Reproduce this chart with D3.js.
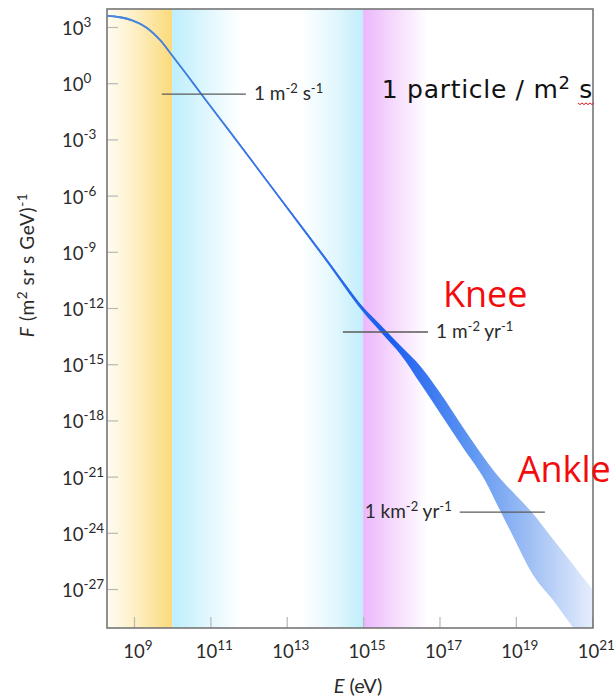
<!DOCTYPE html>
<html>
<head>
<meta charset="utf-8">
<script src="https://cdn.jsdelivr.net/npm/d3@7"></script>
<style>
html, body { margin: 0; padding: 0; background: #fff; }
svg { display: block; }
</style>
</head>
<body>
<div id="graphicContainer"></div>
<script>

// values are stored as powers of ten (log10)
var energyExp    = [8.3, 8.63, 8.97, 9.34, 9.68, 10.0, 10.39, 10.78, 11.5, 13.0, 14.0, 15.0, 15.5, 16.0, 16.5, 17.0, 17.6, 18.2, 18.6, 19.0, 19.4, 20.0, 20.5, 21.0];
var fluxUpperExp = [3.64, 3.57, 3.39, 3.0, 2.36, 1.53, 0.49, -0.58, -2.51, -6.56, -9.24, -11.95, -13.0, -14.06, -15.11, -16.48, -18.32, -20.08, -21.13, -21.99, -22.86, -24.41, -25.70, -27.0];
var fluxLowerExp = [3.54, 3.47, 3.29, 2.9, 2.26, 1.43, 0.39, -0.68, -2.61, -6.68, -9.42, -12.21, -13.37, -14.53, -16.03, -17.56, -19.40, -21.23, -22.86, -24.49, -26.08, -27.67, -29.06, -30.5];

var xTickExp = [9, 11, 13, 15, 17, 19, 21];
var yTickExp = [3, 0, -3, -6, -9, -12, -15, -18, -21, -24, -27];

// shaded energy regions
var bandFromExp = [8.29, 10.0, 13.35, 15.0];
var bandToExp   = [10.0, 11.8, 15.0, 16.7];

// rate markers
var rateLabels  = ["1 m^{-2} s^{-1}", "1 m^{-2} yr^{-1}", "1 km^{-2} yr^{-1}"];
var rateFluxExp = [-0.58, -13.28, -22.89];
var rateFromExp = [9.73, 14.47, 17.53];
var rateToExp   = [11.93, 16.70, 19.76];

var calloutLabels    = ["Knee", "Ankle"];
var calloutEnergyExp = [17.09, 19.05];
var calloutFluxExp   = [-11.95, -21.29];

var noteLabel = "1 particle / m^{2} s";
var noteAt = [15.49, -0.79];

var bandStops = [
	[["0%", "#fffcf4"], ["55%", "#fdebb6"], ["100%", "#fbda7a"]],
	[["0%", "#bdeefc"], ["45%", "#dcf6fd"], ["100%", "#ffffff"]],
	[["0%", "#ffffff"], ["55%", "#e2f7fd"], ["100%", "#c1eefc"]],
	[["0%", "#ebb7fb"], ["50%", "#f6dcfd"], ["100%", "#ffffff"]]
];

var curveStops = [
	["0%", "#4a86dc"], ["45%", "#2f6eea"], ["58%", "#1a5cf0"],
	["75%", "#5e96f1"], ["87%", "#9fbff4"], ["100%", "#e6eefc"]
];

var pow = function(e) { return Math.pow(10, e); };

var w = 616, h = 698;
var margin = {top: 9, right: 23, bottom: 70, left: 107},
    width = w - margin.left - margin.right,
    height = h - margin.top - margin.bottom;

var x = d3.scaleLog().domain([pow(8.293), pow(21.02)]).range([0, width]);
var y = d3.scaleLog().domain([pow(3.96), pow(-29.08)]).range([0, height]);

// text with ^{...} superscripts
function rich(text, str, shift, supSize) {
	var parts = str.split(/\^\{([^}]*)\}/);
	var current = 0;
	parts.forEach(function(p, i) {
		if (!p) return;
		var sup = i % 2 === 1;
		var target = sup ? -shift : 0;
		var t = text.append("tspan").attr("dy", target - current).text(p);
		if (sup) t.attr("font-size", supSize);
		current = target;
	});
	return text;
}

var svg = d3.select("#graphicContainer").append("svg")
	.attr("width", w)
	.attr("height", h);

var defs = svg.append("defs");

var g = svg.append("g")
	.attr("transform", "translate(" + margin.left + "," + margin.top + ")");

defs.append("clipPath").attr("id", "plotClip")
  .append("rect")
	.attr("width", width)
	.attr("height", height);

// background regions
bandFromExp.forEach(function(from, i) {
	var grad = defs.append("linearGradient")
		.attr("id", "band" + i)
		.attr("gradientUnits", "userSpaceOnUse")
		.attr("x1", x(pow(from))).attr("x2", x(pow(bandToExp[i])))
		.attr("y1", 0).attr("y2", 0);
	bandStops[i].forEach(function(s) {
		grad.append("stop").attr("offset", s[0]).attr("stop-color", s[1]);
	});
	g.append("rect")
		.attr("x", x(pow(from)))
		.attr("y", 0)
		.attr("width", x(pow(bandToExp[i])) - x(pow(from)))
		.attr("height", height)
		.attr("fill", "url(#band" + i + ")");
});

// spectrum
var spectrum = energyExp.map(function(e, i) {
	return {e: e, hi: fluxUpperExp[i], lo: fluxLowerExp[i]};
});

var cg = defs.append("linearGradient")
	.attr("id", "curveGrad")
	.attr("gradientUnits", "userSpaceOnUse")
	.attr("x1", 0).attr("x2", width)
	.attr("y1", 0).attr("y2", 0);
curveStops.forEach(function(s) {
	cg.append("stop").attr("offset", s[0]).attr("stop-color", s[1]);
});

var band = d3.area()
	.x(function(d) { return x(pow(d.e)); })
	.y0(function(d) { return y(pow(d.lo)); })
	.y1(function(d) { return y(pow(d.hi)); })
	.curve(d3.curveMonotoneX);

var mid = d3.line()
	.x(function(d) { return x(pow(d.e)); })
	.y(function(d) { return y(pow((d.lo + d.hi) / 2)); })
	.curve(d3.curveMonotoneX);

var plot = g.append("g").attr("clip-path", "url(#plotClip)");

plot.append("path")
	.datum(spectrum)
	.attr("d", band)
	.attr("fill", "url(#curveGrad)");

plot.append("path")
	.datum(spectrum.filter(function(d) { return d.e <= 15; }))
	.attr("d", mid)
	.attr("fill", "none")
	.attr("stroke", "url(#curveGrad)")
	.attr("stroke-width", 1.8);

// axes (tick marks inside the frame)
var xAxis = d3.axisBottom(x).tickValues(xTickExp.map(pow)).tickSizeInner(-11).tickSizeOuter(0).tickFormat("");
var yAxis = d3.axisLeft(y).tickValues(yTickExp.map(pow)).tickSizeInner(-11).tickSizeOuter(0).tickFormat("");

var gx = g.append("g").attr("transform", "translate(0," + height + ")").call(xAxis);
var gy = g.append("g").call(yAxis);
[gx, gy].forEach(function(a) {
	a.select(".domain").remove();
	a.selectAll(".tick line").attr("stroke", "#b8b8b8").attr("stroke-width", 1.2);
});

xTickExp.forEach(function(e) {
	var t = g.append("text")
		.attr("x", x(pow(e)) + 4)
		.attr("y", height + 30)
		.attr("text-anchor", "middle")
		.attr("font-family", "Lato, sans-serif")
		.attr("font-size", 18.5)
		.attr("fill", "#2a2a2a");
	rich(t, "10^{" + e + "}", 8, 13.5);
});

yTickExp.forEach(function(e) {
	var t = g.append("text")
		.attr("x", -45)
		.attr("y", y(pow(e)) + 8)
		.attr("text-anchor", "start")
		.attr("font-family", "Lato, sans-serif")
		.attr("font-size", 18.5)
		.attr("fill", "#2a2a2a");
	rich(t, "10^{" + e + "}", 8, 13.5);
});

// frame
g.append("rect")
	.attr("width", width)
	.attr("height", height)
	.attr("fill", "none")
	.attr("stroke", "#767676")
	.attr("stroke-width", 1.6);

// axis titles
var yl = g.append("text")
	.attr("transform", "translate(" + (34 - margin.left) + "," + (265 - margin.top) + ") rotate(-90)")
	.attr("text-anchor", "middle")
	.attr("font-family", "Lato, sans-serif")
	.attr("font-size", 19)
	.attr("letter-spacing", 0.6)
	.attr("fill", "#2a2a2a");
yl.append("tspan").attr("font-style", "italic").text("F");
rich(yl, " (m^{2} sr s GeV)^{-1}", 7, 13.5);

var xl = g.append("text")
	.attr("x", 358 - margin.left)
	.attr("y", 693 - margin.top)
	.attr("text-anchor", "middle")
	.attr("font-family", "Lato, sans-serif")
	.attr("font-size", 20)
	.attr("fill", "#2a2a2a");
xl.append("tspan").attr("font-style", "italic").text("E");
xl.append("tspan").text(" (eV)");

// rate markers
rateLabels.forEach(function(label, i) {
	var yy = y(pow(rateFluxExp[i]));
	g.append("line")
		.attr("x1", x(pow(rateFromExp[i])))
		.attr("x2", x(pow(rateToExp[i])))
		.attr("y1", yy).attr("y2", yy)
		.attr("stroke", "#5a5a5a")
		.attr("stroke-width", 1.3);
	var left = i === 2;
	var t = g.append("text")
		.attr("x", left ? x(pow(rateFromExp[i])) - 8 : x(pow(rateToExp[i])) + 8)
		.attr("y", yy + 6)
		.attr("text-anchor", left ? "end" : "start")
		.attr("font-family", "Lato, sans-serif")
		.attr("font-size", 19)
		.attr("fill", "#2a2a2a");
	rich(t, label, 7, 13);
});

// note and callouts
var note = g.append("text")
	.attr("x", x(pow(noteAt[0])))
	.attr("y", y(pow(noteAt[1])))
	.attr("font-family", "'Comic Sans MS', 'DejaVu Sans', sans-serif")
	.attr("font-size", 25)
	.attr("letter-spacing", 0.7)
	.attr("fill", "#111");
rich(note, noteLabel, 9, 18);

var nb = note.node().getBBox();
var sq = d3.path(), sx = nb.x + nb.width - 15, sy = y(pow(noteAt[1])) + 5;
sq.moveTo(sx, sy);
for (var k = 1; k <= 8; k++) sq.lineTo(sx + k * 2, sy + (k % 2 ? 1.6 : 0));
g.append("path").attr("d", sq.toString()).attr("fill", "none").attr("stroke", "#e01818").attr("stroke-width", 1);

calloutLabels.forEach(function(label, i) {
	g.append("text")
		.attr("x", x(pow(calloutEnergyExp[i])))
		.attr("y", y(pow(calloutFluxExp[i])))
		.attr("font-family", "'Comic Sans MS', 'Open Sans', sans-serif")
		.attr("font-size", 36)
		.attr("font-weight", 500)
		.attr("fill", "#f20c0c")
		.text(label);
});

</script>
</body>
</html>
